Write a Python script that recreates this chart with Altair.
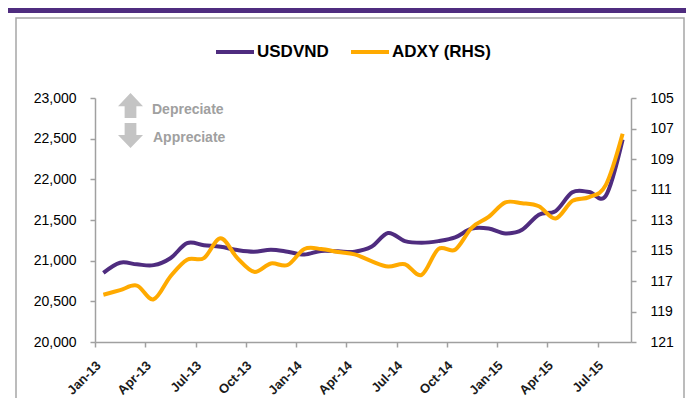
import altair as alt
import pandas as pd

months = ["Jan-13", "Feb-13", "Mar-13", "Apr-13", "May-13", "Jun-13", "Jul-13", "Aug-13",
          "Sep-13", "Oct-13", "Nov-13", "Dec-13", "Jan-14", "Feb-14", "Mar-14", "Apr-14",
          "May-14", "Jun-14", "Jul-14", "Aug-14", "Sep-14", "Oct-14", "Nov-14", "Dec-14",
          "Jan-15", "Feb-15", "Mar-15", "Apr-15", "May-15", "Jun-15", "Jul-15", "Aug-15"]

usdvnd = [20850, 20975, 20955, 20945, 21030, 21215, 21190, 21170,
          21130, 21110, 21135, 21110, 21075, 21120, 21115, 21110,
          21170, 21340, 21240, 21220, 21240, 21285, 21395, 21395,
          21335, 21380, 21565, 21610, 21840, 21845, 21800, 22490]

adxy = [117.9, 117.6, 117.3, 118.2, 116.7, 115.6, 115.5, 114.2,
        115.5, 116.4, 115.85, 115.95, 114.9, 114.9, 115.1, 115.25,
        115.7, 116.05, 115.9, 116.6, 114.9, 114.95, 113.5, 112.8,
        111.85, 111.9, 112.1, 112.9, 111.75, 111.5, 110.7, 107.35]

tick_labels = ["Jan-13", "Apr-13", "Jul-13", "Oct-13", "Jan-14", "Apr-14",
               "Jul-14", "Oct-14", "Jan-15", "Apr-15", "Jul-15"]
left_ticks = [20000, 20500, 21000, 21500, 22000, 22500, 23000]
right_ticks = [105, 107, 109, 111, 113, 115, 117, 119, 121]

series_names = ["USDVND", "ADXY (RHS)"]
series_colors = ["#4F2C7F", "#FFAA00"]

df = pd.DataFrame({"idx": list(range(len(months))), "month": months,
                   "usd": usdvnd, "adxy": adxy})

FONT = "Liberation Sans"
W, H = 536, 244
half = W / len(months) / 2

label_expr = "[" + ",".join("'%s'" % t for t in tick_labels) + "][round(datum.value/3)]"

xenc = alt.X("idx:Q",
             scale=alt.Scale(domain=[-0.5, len(months) - 0.5], nice=False, zero=False),
             axis=alt.Axis(values=list(range(0, len(months), 3)), labelExpr=label_expr,
                           title=None, grid=False, tickSize=5, tickColor="#a0a0a0",
                           tickWidth=1.5, domainColor="#a0a0a0", domainWidth=1.5,
                           tickOffset=-half, labelOffset=half - 5,
                           labelAngle=-45, labelAlign="right", labelBaseline="middle",
                           labelFont=FONT, labelFontSize=13, labelFontWeight="bold",
                           labelColor="#1a1a1a", labelPadding=16))

color_enc = alt.Color("series:N",
                      scale=alt.Scale(domain=series_names, range=series_colors),
                      legend=alt.Legend(orient="none", legendX=119, legendY=-67,
                                        direction="horizontal", title=None,
                                        symbolType="stroke", symbolSize=1444,
                                        symbolStrokeWidth=4, labelFontSize=17,
                                        labelFontWeight="bold", labelFont=FONT,
                                        labelColor="#000000", columnPadding=14,
                                        labelOffset=1))

usd_line = alt.Chart(df).transform_calculate(series="'USDVND'").mark_line(
    strokeWidth=4, interpolate="cardinal").encode(
    x=xenc,
    y=alt.Y("usd:Q", scale=alt.Scale(domain=[20000, 23000], nice=False, zero=False),
            axis=alt.Axis(values=left_ticks, format=",.0f", title=None, grid=False,
                          orient="left", tickSize=5, tickColor="#a0a0a0", tickWidth=1.5,
                          domainColor="#a0a0a0", domainWidth=1.5, labelFont=FONT,
                          labelFontSize=14, labelColor="#000000", labelPadding=14)),
    color=color_enc)

adxy_line = alt.Chart(df).transform_calculate(series="'ADXY (RHS)'").mark_line(
    strokeWidth=4, interpolate="cardinal").encode(
    x=xenc,
    y=alt.Y("adxy:Q", scale=alt.Scale(domain=[105, 121], reverse=True, nice=False, zero=False),
            axis=alt.Axis(values=right_ticks, format="d", title=None, grid=False,
                          orient="right", tickSize=5, tickColor="#a0a0a0", tickWidth=1.5,
                          domainColor="#a0a0a0", domainWidth=1.5, labelFont=FONT,
                          labelFontSize=14, labelColor="#000000", labelPadding=14)),
    color=color_enc)

one = alt.Data(values=[{"a": 1}])

frame = alt.Chart(one).mark_rect(fillOpacity=0, stroke="#a6a6a6", strokeWidth=1.5).encode(
    x=alt.value(-79), x2=alt.value(589), y=alt.value(-80), y2=alt.value(330))

band = alt.Chart(one).mark_rect(fill="#4F2C7F").encode(
    x=alt.value(-91), x2=alt.value(599), y=alt.value(-98), y2=alt.value(-85))

up_arrow = alt.Chart(one).mark_point(
    shape="M0,-1 L1,0.05 L0.47,0.05 L0.47,1 L-0.47,1 L-0.47,0.05 L-1,0.05 Z",
    filled=True, fill="#c4c4c4", strokeOpacity=0, size=625, opacity=1).encode(
    x=alt.value(35.5), y=alt.value(7.5))

down_arrow = alt.Chart(one).mark_point(
    shape="M0,1 L1,-0.05 L0.47,-0.05 L0.47,-1 L-0.47,-1 L-0.47,-0.05 L-1,-0.05 Z",
    filled=True, fill="#c4c4c4", strokeOpacity=0, size=625, opacity=1).encode(
    x=alt.value(35.5), y=alt.value(37.5))

dep_text = alt.Chart(one).mark_text(text="Depreciate", align="left", baseline="middle",
                                    font=FONT, fontSize=14, fontWeight="bold",
                                    color="#a0a0a0").encode(
    x=alt.value(57), y=alt.value(12))

app_text = alt.Chart(one).mark_text(text="Appreciate", align="left", baseline="middle",
                                    font=FONT, fontSize=14, fontWeight="bold",
                                    color="#a0a0a0").encode(
    x=alt.value(58), y=alt.value(40))

chart = alt.layer(
    frame, band, up_arrow, down_arrow, dep_text, app_text, usd_line, adxy_line
).resolve_scale(y="independent").properties(
    width=W, height=H,
    autosize=alt.AutoSizeParams(type="none"),
    padding={"left": 87, "top": 90, "right": 55, "bottom": 56},
    background="#ffffff"
).configure_view(stroke=None)

chart.save("out.html", embed_options={"renderer": "svg", "actions": False})
